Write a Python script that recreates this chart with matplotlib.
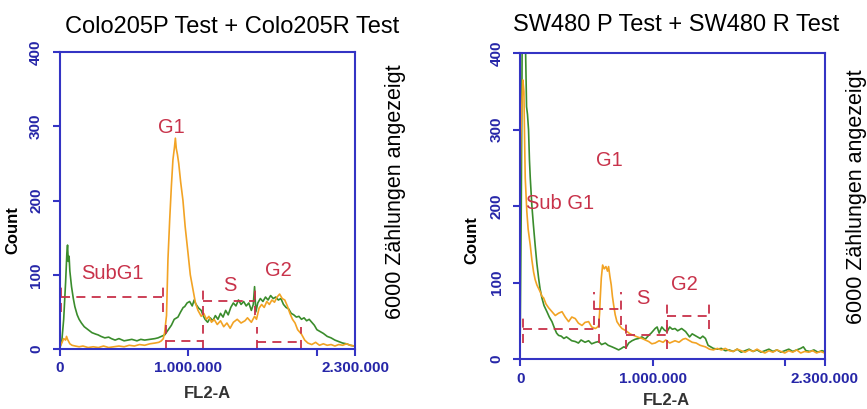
import numpy as np
import matplotlib
matplotlib.use('Agg')
import matplotlib.pyplot as plt

plt.rcParams['font.family'] = ['Liberation Sans', 'DejaVu Sans']

# ---- data (x in thousands of FL2-A units, y = count) ----
colo_orange_x = [0, 15, 30, 45, 52, 60, 78, 95, 120, 150, 180, 220, 260, 300, 340, 380, 420, 460, 500, 540,
                 580, 620, 660, 700, 740, 770, 790, 805, 815, 830, 841, 855, 868, 880, 892, 899, 906, 915, 925,
                 940, 958, 975, 998, 1015, 1036, 1055, 1075, 1100, 1120, 1140, 1160, 1180, 1200, 1225, 1250,
                 1275, 1300, 1325, 1350, 1380, 1410, 1440, 1460, 1490, 1515, 1530, 1550, 1570, 1590, 1610,
                 1630, 1650, 1670, 1690, 1710, 1730, 1750, 1770, 1790, 1810, 1830, 1850, 1880, 1905, 1930,
                 1960, 1990, 2020, 2050, 2080, 2110, 2140, 2170, 2200, 2230, 2260, 2290]
colo_orange_y = [2, 8, 14, 12, 17, 13, 7, 5, 4, 3, 4, 2, 3, 2, 4, 2, 3, 4, 3, 5,
                 4, 6, 5, 7, 8, 9, 11, 14, 22, 45, 120, 175, 220, 255, 272, 284, 270, 262, 250,
                 225, 200, 165, 128, 100, 80, 62, 52, 44, 48, 40, 44, 36, 40, 33, 38,
                 30, 35, 28, 36, 40, 35, 38, 42, 36, 44, 40, 55, 60, 56, 64,
                 60, 66, 63, 70, 74, 68, 66, 58, 48, 40, 35, 26, 20, 12, 8,
                 6, 9, 5, 7, 5, 6, 4, 6, 5, 7, 5, 4]

colo_green_x = [0, 15, 30, 45, 55, 60, 66, 72, 78, 91, 105, 117, 135, 150, 168, 190, 220, 250, 280, 298,
                320, 350, 380, 401, 430, 460, 500, 531, 560, 600, 630, 660, 700, 740, 764, 790, 816, 840,
                868, 890, 919, 940, 960, 971, 990, 1010, 1030, 1045, 1060, 1080, 1100, 1115, 1130, 1150,
                1170, 1190, 1210, 1230, 1250, 1270, 1290, 1310, 1330, 1350, 1370, 1390, 1410, 1430, 1450,
                1470, 1490, 1505, 1515, 1525, 1540, 1560, 1580, 1600, 1620, 1640, 1660, 1680, 1700, 1720,
                1740, 1760, 1780, 1800, 1820, 1840, 1860, 1880, 1900, 1920, 1940, 1960, 1980, 2000, 2020,
                2050, 2080, 2110, 2140, 2170, 2200, 2230, 2260, 2290]
colo_green_y = [2, 10, 40, 90, 130, 140, 118, 125, 105, 84, 68, 57, 46, 40, 35, 30, 26, 22, 20, 19,
                17, 15, 16, 14, 12, 14, 11, 12, 13, 11, 13, 12, 13, 14, 15, 17, 19, 25,
                32, 40, 43, 50, 56, 57, 62, 64, 58, 66, 60, 55, 52, 45, 40, 36,
                42, 38, 45, 40, 48, 43, 52, 46, 56, 62, 58, 66, 60, 64, 58,
                62, 52, 60, 84, 50, 62, 68, 64, 70, 66, 72, 68, 70, 66, 68,
                60, 56, 54, 48, 46, 43, 44, 40, 42, 38, 40, 36, 32, 26, 24,
                21, 17, 15, 12, 10, 8, 7, 5, 4]

sw_orange_x = [0, 5, 12, 20, 28, 33, 38, 44, 50, 60, 76, 88, 101, 113, 126, 140, 151, 165, 177, 195,
               215, 240, 265, 290, 316, 340, 366, 390, 416, 440, 467, 490, 517, 540, 568, 585, 593, 600,
               605, 613, 623, 635, 648, 660, 668, 678, 688, 697, 706, 718, 731, 750, 769, 790, 807, 830,
               857, 885, 920, 945, 971, 995, 1020, 1050, 1080, 1100, 1130, 1170, 1200, 1230, 1250, 1280,
               1300, 1330, 1360, 1400, 1430, 1460, 1490, 1520, 1550, 1580, 1610, 1640, 1670, 1700, 1730,
               1760, 1790, 1820, 1850, 1880, 1910, 1940, 1970, 2000, 2030, 2060, 2090, 2120, 2150, 2180,
               2210, 2240, 2270, 2300]
sw_orange_y = [240, 290, 330, 365, 350, 290, 237, 215, 193, 170, 149, 130, 114, 104, 97, 92, 88, 82, 80, 72,
               67, 62, 57, 60, 62, 55, 49, 55, 53, 47, 44, 48, 49, 42, 40, 42, 44, 60,
               80, 106, 123, 118, 121, 115, 121, 108, 97, 82, 71, 58, 49, 44, 40, 38, 36, 33,
               31, 29, 27, 25, 23, 20, 21, 24, 22, 25, 21, 24, 22, 26, 27, 24,
               22, 21, 18, 16, 13, 12, 14, 12, 14, 11, 10, 13, 11, 9, 12,
               10, 13, 10, 8, 11, 9, 12, 10, 8, 11, 9, 12, 8, 10, 9,
               11, 8, 10, 8]

sw_green_x = [0, 8, 15, 25, 38, 48, 55, 63, 70, 76, 88, 100, 113, 126, 139, 150, 164, 180, 202, 220,
              240, 260, 275, 290, 310, 330, 350, 366, 390, 416, 440, 460, 490, 517, 540, 570, 593, 615,
              643, 665, 694, 720, 744, 765, 782, 800, 820, 845, 870, 895, 920, 945, 971, 990, 1010, 1020,
              1035, 1050, 1070, 1090, 1110, 1130, 1150, 1170, 1190, 1220, 1250, 1280, 1300, 1330, 1360,
              1380, 1400, 1420, 1440, 1460, 1490, 1520, 1550, 1580, 1610, 1640, 1670, 1700, 1730, 1760,
              1790, 1820, 1850, 1880, 1910, 1940, 1970, 2000, 2030, 2060, 2090, 2120, 2140, 2160, 2190,
              2220, 2250, 2280, 2300]
sw_green_y = [30, 200, 420, 450, 430, 330, 320, 300, 260, 237, 201, 175, 149, 125, 106, 92, 80, 70, 62, 55,
              49, 40, 34, 31, 30, 27, 29, 27, 24, 23, 21, 25, 22, 24, 20, 22, 23, 19,
              21, 18, 16, 14, 12, 14, 16, 15, 21, 24, 26, 27, 29, 26, 31, 34, 38, 40,
              42, 34, 42, 38, 36, 42, 39, 40, 37, 40, 36, 29, 33, 30, 27,
              30, 27, 18, 16, 14, 13, 14, 11, 12, 10, 13, 9, 11, 13, 10,
              12, 9, 11, 13, 10, 12, 9, 11, 13, 10, 12, 14, 16, 11, 10,
              12, 9, 11, 10]

# gates: label, x0, x1 (thousands), level, half height of end ticks, label x, label y
colo_gate_names = ['SubG1', 'G1', 'S', 'G2']
colo_gate_x0 = [8, 829, 1111, 1533]
colo_gate_x1 = [803, 1111, 1515, 1878]
colo_gate_level = [70, 11, 64, 9]
colo_gate_half = [20, 22, 18, 20]
colo_label_x = [409, 868, 1320, 1700]
colo_label_y = [102, 299, 86, 106]

sw_gate_names = ['Sub G1', 'G1', 'S', 'G2']
sw_gate_x0 = [23, 557, 797, 1112]
sw_gate_x1 = [595, 759, 1112, 1427]
sw_gate_level = [40, 66, 31, 57]
sw_gate_half = [19, 22, 18, 18]
sw_label_x = [305, 671, 928, 1238]
sw_label_y = [203, 260, 79, 98]

ORANGE = '#f2a324'
GREEN = '#3a8c2c'
GATE = '#c8324a'
BLUE = '#3434c4'
TICKBLUE = '#2626a8'


def draw_panel(ax, ox, oy, gx, gy, names, x0s, x1s, levels, halves, lx, ly):
    ax.plot(np.array(gx) * 1000, gy, color=GREEN, lw=1.2)
    ax.plot(np.array(ox) * 1000, oy, color=ORANGE, lw=1.2)
    dash = (0, (5, 3.5))
    for name, a, b, lev, h, tx, ty in zip(names, x0s, x1s, levels, halves, lx, ly):
        a *= 1000
        b *= 1000
        ax.plot([a, b], [lev, lev], color=GATE, lw=1.3, ls=dash)
        ax.plot([a, a], [max(lev - h, 0), lev + h], color=GATE, lw=1.3, ls=dash)
        ax.plot([b, b], [max(lev - h, 0), lev + h], color=GATE, lw=1.3, ls=dash)
        ax.text(tx * 1000, ty, name, color=GATE, fontsize=14.5, ha='center', va='center')

    ax.set_xlim(0, 2300000)
    ax.set_ylim(0, 400)
    ax.set_xticks([0, 1000000, 2000000, 2300000])
    ax.set_xticklabels(['0', '1.000.000', '', '2.300.000'])
    ax.set_yticks([0, 100, 200, 300, 400])
    ax.set_yticklabels(['0', '100', '200', '300', '400'], rotation=90, va='center')
    for s in ax.spines.values():
        s.set_color(BLUE)
        s.set_linewidth(1.5)
    ax.tick_params(axis='both', colors=BLUE, width=1.5, length=5, direction='out')
    ax.tick_params(axis='x', labelcolor=TICKBLUE, labelsize=11, pad=4)
    ax.tick_params(axis='y', labelcolor=TICKBLUE, labelsize=11, pad=7)
    for lab in ax.get_xticklabels() + ax.get_yticklabels():
        lab.set_fontweight('bold')


fig = plt.figure(figsize=(8.67, 4.09), dpi=100)

ax1 = fig.add_axes([0.069, 0.1467, 0.341, 0.726])
draw_panel(ax1, colo_orange_x, colo_orange_y, colo_green_x, colo_green_y,
           colo_gate_names, colo_gate_x0, colo_gate_x1, colo_gate_level, colo_gate_half,
           colo_label_x, colo_label_y)

ax2 = fig.add_axes([0.600, 0.122, 0.351, 0.748])
draw_panel(ax2, sw_orange_x, sw_orange_y, sw_green_x, sw_green_y,
           sw_gate_names, sw_gate_x0, sw_gate_x1, sw_gate_level, sw_gate_half,
           sw_label_x, sw_label_y)

fig.text(0.2676, 0.934, 'Colo205P Test + Colo205R Test', fontsize=17, ha='center', va='center')
fig.text(0.780, 0.939, 'SW480 P Test + SW480 R Test', fontsize=17, ha='center', va='center')

fig.text(0.4556, 0.531, '6000 Zählungen angezeigt', fontsize=15.5, rotation=90, ha='center', va='center')
fig.text(0.988, 0.518, '6000 Zählungen angezeigt', fontsize=15.5, rotation=90, ha='center', va='center')

fig.text(0.015, 0.438, 'Count', fontsize=12, fontweight='bold', rotation=90, ha='center', va='center')
fig.text(0.544, 0.413, 'Count', fontsize=12, fontweight='bold', rotation=90, ha='center', va='center')

fig.text(0.239, 0.039, 'FL2-A', fontsize=12, fontweight='bold', color='#333333', ha='center', va='center')
fig.text(0.769, 0.022, 'FL2-A', fontsize=12, fontweight='bold', color='#333333', ha='center', va='center')

fig.savefig('out.png', dpi=100)
